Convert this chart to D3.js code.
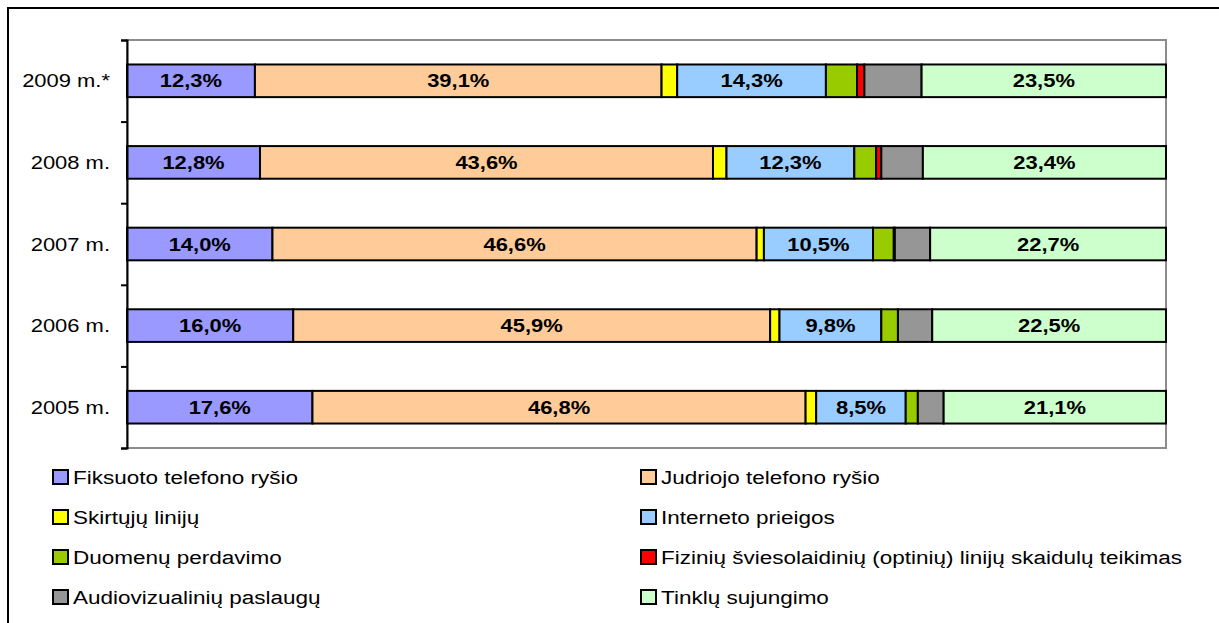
<!DOCTYPE html>
<html>
<head>
<meta charset="utf-8">
<script src="https://cdn.jsdelivr.net/npm/d3@7"></script>
<style>
  body { margin: 0; background: #fff; }
  text { font-family: "Liberation Sans", Arial, sans-serif; }
</style>
</head>
<body>
<div id="chart"></div>
<script>
// Categories (top to bottom)
const years = ["2009 m.*", "2008 m.", "2007 m.", "2006 m.", "2005 m."];

// Series values, %
const fiksuoto  = [12.3, 12.8, 14.0, 16.0, 17.6];
const judriojo  = [39.1, 43.6, 46.6, 45.9, 46.8];
const skirtuju  = [1.5, 1.3, 0.7, 0.9, 1.0];
const interneto = [14.3, 12.3, 10.5, 9.8, 8.5];
const duomenu   = [3.0, 2.1, 2.0, 1.6, 1.15];
const fiziniu   = [0.7, 0.5, 0.1, 0, 0];
const audio     = [5.5, 4.0, 3.4, 3.3, 2.45];
const tinklu    = [23.5, 23.4, 22.7, 22.5, 21.1];

const seriesNames = [
  "Fiksuoto telefono ryšio",
  "Judriojo telefono ryšio",
  "Skirtųjų linijų",
  "Interneto prieigos",
  "Duomenų perdavimo",
  "Fizinių šviesolaidinių (optinių) linijų skaidulų teikimas",
  "Audiovizualinių paslaugų",
  "Tinklų sujungimo"
];
const seriesValues = [fiksuoto, judriojo, skirtuju, interneto, duomenu, fiziniu, audio, tinklu];
const seriesColors = ["#9999ff", "#ffcc99", "#ffff00", "#99ccff", "#99cc00", "#ff0000", "#969696", "#ccffcc"];
// only these series carry data labels
const labelled = new Set(["Fiksuoto telefono ryšio", "Judriojo telefono ryšio", "Interneto prieigos", "Tinklų sujungimo"]);

const width = 1219, height = 623;
const plot = {left: 127, right: 1166, top: 40, bottom: 448};
const sx = 1.22;  // text in the reference is slightly stretched horizontally
const sxLegend = 1.25;

const svg = d3.select("#chart")
  .append("svg")
    .attr("width", width)
    .attr("height", height);

// outer frame
svg.append("rect")
  .attr("x", 8).attr("y", 8)
  .attr("width", 1240).attr("height", 640)
  .attr("fill", "none")
  .attr("stroke", "#000")
  .attr("stroke-width", 2);

// build rows for the stack
const rows = years.map(function(y, i) {
  const row = {year: y};
  seriesNames.forEach(function(s, j) { row[s] = seriesValues[j][i]; });
  return row;
});

const stacked = d3.stack()
  .keys(seriesNames)
  .offset(d3.stackOffsetExpand)(rows);

const xScale = d3.scaleLinear()
  .domain([0, 1])
  .range([plot.left, plot.right]);

const yScale = d3.scaleBand()
  .domain(years)
  .range([plot.top, plot.bottom])
  .paddingInner(0.6)
  .paddingOuter(0.3);

const color = d3.scaleOrdinal()
  .domain(seriesNames)
  .range(seriesColors);

// plot area border (gray)
svg.append("rect")
  .attr("x", plot.left).attr("y", plot.top)
  .attr("width", plot.right - plot.left)
  .attr("height", plot.bottom - plot.top)
  .attr("fill", "none")
  .attr("stroke", "#8c8c8c")
  .attr("stroke-width", 2);

// bars
const layer = svg.append("g")
  .selectAll("g")
  .data(stacked)
  .join("g")
    .attr("fill", d => color(d.key));

layer.selectAll("rect")
  .data(d => d)
  .join("rect")
    .attr("x", d => xScale(d[0]))
    .attr("y", d => yScale(d.data.year))
    .attr("width", d => xScale(d[1]) - xScale(d[0]))
    .attr("height", yScale.bandwidth())
    .attr("stroke", "#000")
    .attr("stroke-width", 2);

// data labels
const fmt = d3.format(".1f");
stacked.filter(s => labelled.has(s.key)).forEach(function(s) {
  svg.append("g")
    .selectAll("g")
    .data(s)
    .join("g")
      .attr("transform", d => `translate(${(xScale(d[0]) + xScale(d[1])) / 2}, ${yScale(d.data.year) + yScale.bandwidth() / 2 + 6.5}) scale(${sx},1)`)
    .append("text")
      .attr("text-anchor", "middle")
      .style("font-size", "18px")
      .style("font-weight", "bold")
      .attr("fill", "#000")
      .text(d => fmt(d.data[s.key]).replace(".", ",") + "%");
});

// left axis: ticks sit between categories
const tickScale = d3.scaleLinear()
  .domain([0, years.length])
  .range([plot.top, plot.bottom]);

svg.append("g")
  .attr("transform", `translate(${plot.left}, 0)`)
  .call(d3.axisLeft(tickScale).ticks(years.length).tickSize(6).tickFormat("").tickSizeOuter(6))
  .call(g => g.selectAll("line, path").attr("stroke", "#000").attr("stroke-width", 2));

// category labels
svg.append("g")
  .selectAll("g")
  .data(years)
  .join("g")
    .attr("transform", d => `translate(110, ${yScale(d) + yScale.bandwidth() / 2 + 6.5}) scale(${sx},1)`)
  .append("text")
    .attr("text-anchor", "end")
    .style("font-size", "18px")
    .attr("fill", "#000")
    .text(d => d);

// legend, two columns
const legend = svg.append("g")
  .selectAll("g")
  .data(seriesNames)
  .join("g")
    .attr("transform", (d, i) => `translate(${i % 2 === 0 ? 53 : 641}, ${477 + Math.floor(i / 2) * 40})`);

legend.append("rect")
  .attr("x", 0).attr("y", -7)
  .attr("width", 15).attr("height", 14)
  .attr("fill", d => color(d))
  .attr("stroke", "#000")
  .attr("stroke-width", 2);

legend.append("g")
  .attr("transform", `translate(20, 6.5) scale(${sxLegend},1)`)
  .append("text")
    .style("font-size", "18px")
    .attr("fill", "#000")
    .text(d => d);
</script>
</body>
</html>
